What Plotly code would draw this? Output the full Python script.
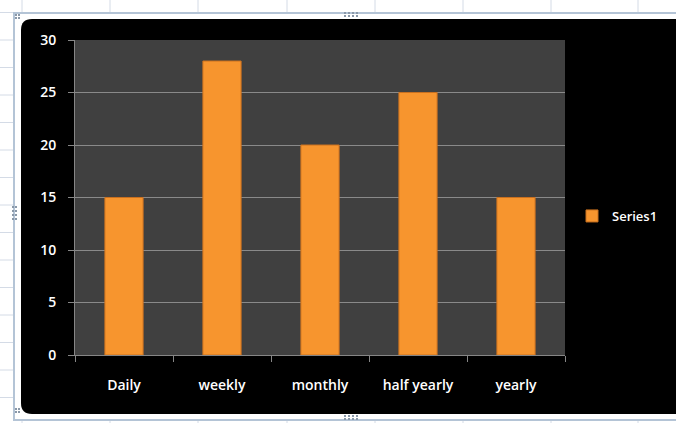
import re
import plotly.graph_objects as go

categories = ["Daily", "weekly", "monthly", "half yearly", "yearly"]
series1 = [15, 28, 20, 25, 15]
y_ticks = [0, 5, 10, 15, 20, 25, 30]

W, H = 676, 423
L, R, T, B = 75, 565, 40, 355  # plot area in pixels


def px(x):
    return (x - L) / (R - L)


def py(y):
    return (B - y) / (B - T)


shapes = []
grid_col = "#d4dbe6"
# spreadsheet cell grid
for gx in [22, 110, 198, 287, 375, 463, 551, 638]:
    shapes.append(dict(type="line", xref="paper", yref="paper", x0=px(gx), x1=px(gx),
                       y0=py(0), y1=py(H), line=dict(color=grid_col, width=1), layer="below"))
for k in range(16):
    gy = 12.5 + 27.5 * k
    shapes.append(dict(type="line", xref="paper", yref="paper", x0=px(0), x1=px(W),
                       y0=py(gy), y1=py(gy), line=dict(color=grid_col, width=1), layer="below"))
# chart selection frame
shapes.append(dict(type="rect", xref="paper", yref="paper", x0=px(14), x1=px(W + 10),
                   y0=py(13), y1=py(420), line=dict(color="#b4c4d6", width=2),
                   fillcolor="white", layer="below"))
# black rounded chart area
x0, x1, y0, y1, r = 21, W + 20, 19, 414, 11
path = (f"M {x0 + r},{y0} L {x1 - r},{y0} Q {x1},{y0} {x1},{y0 + r} L {x1},{y1 - r} "
        f"Q {x1},{y1} {x1 - r},{y1} L {x0 + r},{y1} Q {x0},{y1} {x0},{y1 - r} "
        f"L {x0},{y0 + r} Q {x0},{y0} {x0 + r},{y0} Z")


def conv(m):
    a, b = float(m.group(1)), float(m.group(2))
    return f"{px(a):.5f},{py(b):.5f}"


path_p = re.sub(r"(-?[\d.]+),(-?[\d.]+)", conv, path)
shapes.append(dict(type="path", xref="paper", yref="paper", path=path_p,
                   fillcolor="black", line=dict(color="black", width=0), layer="below"))
# plot area
shapes.append(dict(type="rect", xref="paper", yref="paper", x0=0, x1=1, y0=0, y1=1,
                   fillcolor="#404040", line=dict(width=0), layer="below"))
# selection handles (dots)
for cx, cy, horiz in [(350, 14, True), (350, 417, True), (14, 212, False)]:
    for i in range(4):
        for j in range(2):
            if horiz:
                hx, hy = cx - 6 + i * 4, cy - 2 + j * 3
            else:
                hx, hy = cx - 2 + j * 3, cy - 6 + i * 4
            shapes.append(dict(type="rect", xref="paper", yref="paper",
                               x0=px(hx), x1=px(hx + 2), y0=py(hy), y1=py(hy + 2),
                               fillcolor="#8a98a8", line=dict(width=0), layer="below"))
for cx, cy in [(17, 16), (17, 410)]:
    for i in range(2):
        for j in range(2):
            hx, hy = cx - 2 + i * 3, cy - 2 + j * 3
            shapes.append(dict(type="rect", xref="paper", yref="paper",
                               x0=px(hx), x1=px(hx + 2), y0=py(hy), y1=py(hy + 2),
                               fillcolor="#8a98a8", line=dict(width=0), layer="below"))

fig = go.Figure()
fig.add_trace(go.Bar(
    x=categories, y=series1, name="Series1",
    marker=dict(color="#F7952E", line=dict(color="#C9701F", width=1)),
))

fam = "Open Sans, sans-serif"
fig.update_layout(
    width=W, height=H,
    margin=dict(l=L, r=W - R, t=T, b=H - B),
    paper_bgcolor="white",
    plot_bgcolor="rgba(0,0,0,0)",
    bargap=0.61,
    font=dict(family=fam, size=13, color="white"),
    showlegend=True,
    legend=dict(x=px(572), y=py(216), xanchor="left", yanchor="middle",
                bgcolor="rgba(0,0,0,0)",
                font=dict(family=fam, size=13, color="white", weight=600),
                itemwidth=30),
    shapes=shapes,
    xaxis=dict(type="category", tickson="boundaries", ticks="outside", ticklen=6,
               tickcolor="#868686", showline=True, linecolor="#868686", linewidth=1,
               showgrid=False, ticklabelstandoff=17,
               tickfont=dict(family=fam, size=14, color="white", weight=600)),
    yaxis=dict(range=[0, 30], tickvals=y_ticks, ticks="outside", ticklen=6,
               tickcolor="#868686", showline=True, linecolor="#868686", linewidth=1,
               showgrid=True, gridcolor="#8a8a8a", gridwidth=1, zeroline=False,
               ticklabelstandoff=9,
               tickfont=dict(family=fam, size=14, color="white", weight=600)),
)

fig.write_html("out.html", config={"displayModeBar": False},
               post_script="document.body.style.margin='0';document.body.style.overflow='hidden';")
